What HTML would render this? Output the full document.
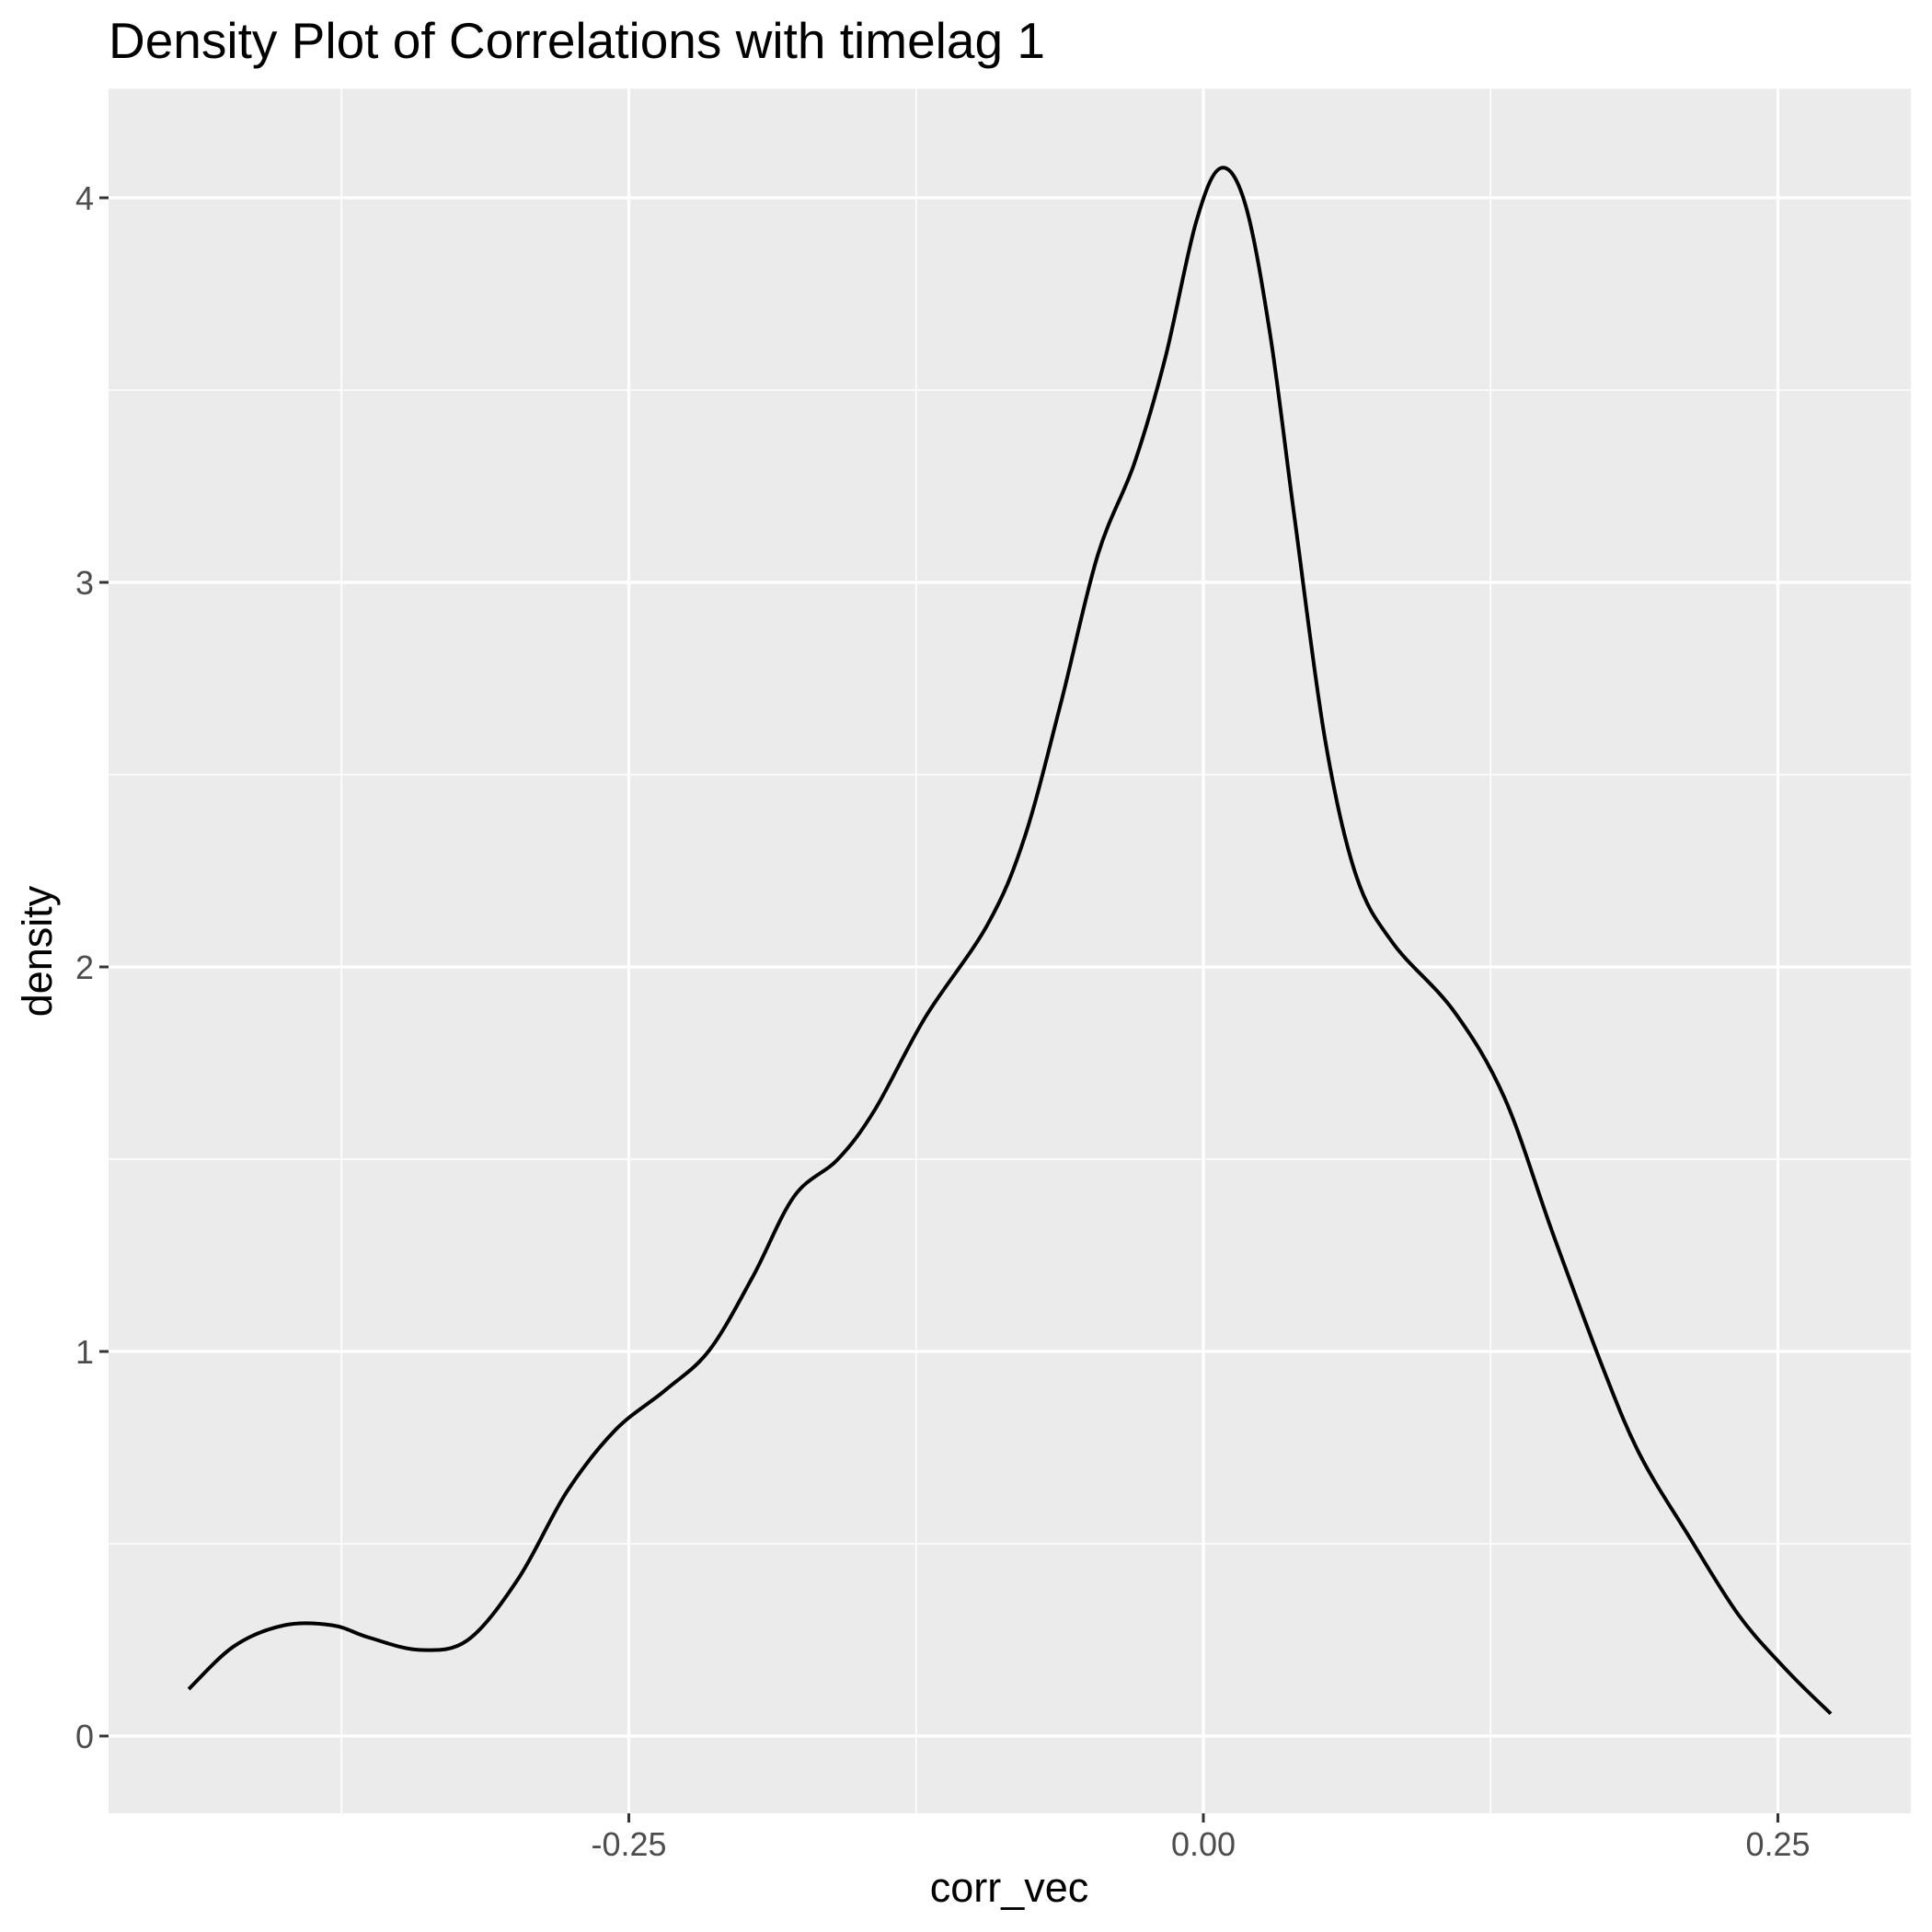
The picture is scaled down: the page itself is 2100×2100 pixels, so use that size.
<!DOCTYPE html>
<html><head><meta charset="utf-8"><style>
html,body{margin:0;padding:0;background:#fff;}
svg{display:block;font-family:"Liberation Sans",Arial,sans-serif;}
</style></head><body>
<svg id="chart" width="2100" height="2100" viewBox="0 0 2100 2100" xmlns="http://www.w3.org/2000/svg">
<text x="118" y="63" font-size="55" fill="#000">Density Plot of Correlations with timelag 1</text>
<rect x="118" y="96.5" width="1959" height="1874.5" fill="#EBEBEB"/>
<g id="grid"></g>
<path id="curve" fill="none" stroke="#000" stroke-width="4"/>
<g id="axes"></g>
<text x="1097" y="2067" font-size="45" text-anchor="middle" fill="#000">corr_vec</text>
<text transform="translate(56,1034) rotate(-90)" font-size="45" text-anchor="middle" fill="#000">density</text>
</svg>
<script>
const xs = [-0.4415,-0.4217,-0.400,-0.379,-0.363,-0.341,-0.320,-0.298,-0.277,-0.256,-0.234,-0.215,-0.196,-0.178,-0.159,-0.143,-0.121,-0.094,-0.078,-0.062,-0.046,-0.030,-0.0166,-0.0032,0.0075,0.0182,0.029,0.0397,0.053,0.0665,0.0826,0.109,0.131,0.152,0.174,0.190,0.211,0.233,0.254,0.273];
const ys = [0.122,0.234,0.288,0.288,0.256,0.224,0.25,0.41,0.635,0.795,0.90,1.003,1.195,1.404,1.5,1.628,1.869,2.109,2.333,2.686,3.07,3.31,3.583,3.936,4.077,3.984,3.647,3.167,2.59,2.237,2.061,1.885,1.66,1.308,0.955,0.731,0.522,0.314,0.17,0.058];
const xTicks = [-0.25,0,0.25];
const xTickLabels = ["-0.25","0.00","0.25"];
const xMinor = [-0.375,-0.125,0.125];
const yTicks = [0,1,2,3,4];
const yTickLabels = ["0","1","2","3","4"];
const yMinor = [0.5,1.5,2.5,3.5];

const X = v => 1308 + v*2498;
const Y = v => 1887 - v*418;
const NS = "http://www.w3.org/2000/svg";
const L = 118, R = 2077, T = 96.5, B = 1971;
const grid = document.getElementById('grid'), axes = document.getElementById('axes');
function line(g,x1,y1,x2,y2,c,w){const l=document.createElementNS(NS,'line');l.setAttribute('x1',x1);l.setAttribute('y1',y1);l.setAttribute('x2',x2);l.setAttribute('y2',y2);l.setAttribute('stroke',c);l.setAttribute('stroke-width',w);g.appendChild(l);return l;}
function text(g,x,y,s,anchor){const t=document.createElementNS(NS,'text');t.setAttribute('x',x);t.setAttribute('y',y);t.setAttribute('font-size','36');t.setAttribute('fill','#4D4D4D');t.setAttribute('text-anchor',anchor);t.textContent=s;g.appendChild(t);return t;}
xMinor.forEach(v=>{const l=line(grid,X(v),T,X(v),B,'#fff',1.6);

});
yMinor.forEach(v=>{const l=line(grid,L,Y(v),R,Y(v),'#fff',1.6);

});
xTicks.forEach((v,i)=>{const l=line(grid,X(v),T,X(v),B,'#fff',3.2);


const tk=line(axes,X(v),B,X(v),B+10,'#333',3);


const t=text(axes,X(v),2017,xTickLabels[i],'middle');

});
yTicks.forEach((v,i)=>{const l=line(grid,L,Y(v),R,Y(v),'#fff',3.2);


const tk=line(axes,L-10,Y(v),L,Y(v),'#333',3);


const t=text(axes,L-16,Y(v)+13,yTickLabels[i],'end');

});
const P = xs.map((x,i)=>[X(x),Y(ys[i])]);
let d = `M${P[0][0]},${P[0][1]}`;
for(let i=0;i<P.length-1;i++){
  const p0=P[Math.max(0,i-1)],p1=P[i],p2=P[i+1],p3=P[Math.min(P.length-1,i+2)];
  const c1=[p1[0]+(p2[0]-p0[0])/6,p1[1]+(p2[1]-p0[1])/6];
  const c2=[p2[0]-(p3[0]-p1[0])/6,p2[1]-(p3[1]-p1[1])/6];
  d+=` C${c1[0]},${c1[1]} ${c2[0]},${c2[1]} ${p2[0]},${p2[1]}`;
}
document.getElementById('curve').setAttribute('d',d);
</script>
</body></html>
